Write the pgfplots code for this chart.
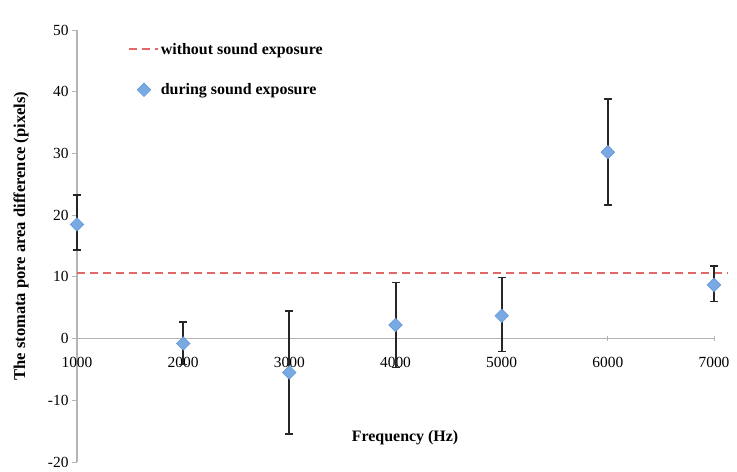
\documentclass[border=0pt]{standalone}
\usepackage{pgfplots}
\pgfplotsset{compat=1.18}
\usepackage{pgfplotstable}
\usepackage{fontspec}
\setmainfont{Liberation Serif}
\definecolor{axgray}{HTML}{B4B4B4}
\definecolor{dashred}{RGB}{224,104,104}
\definecolor{mkfill}{HTML}{78A9E3}
\definecolor{mkdraw}{HTML}{5D90D2}
\pgfplotstableread{
x y ep em
1000 18.5 4.7 4.2
2000 -0.8 3.5 3.4
3000 -5.5 10.0 9.9
4000 2.2 6.9 6.9
5000 3.7 6.2 5.8
6000 30.2 8.6 8.5
7000 8.7 3.1 2.7
}\stomata
\pgfplotstableread{
x y
1000 10.6
7130 10.6
}\baseline
\begin{document}
\begin{tikzpicture}
\path (-77bp,-10bp) rectangle (660bp,462bp);
\begin{axis}[
  at={(0,0)}, anchor=south west,
  scale only axis,
  width=637bp, height=432bp,
  xmin=1000, xmax=7000, ymin=-20, ymax=50,
  axis x line=middle, axis y line=left,
  hide obscured x ticks=false,
  axis line style={draw=axgray, line width=1.1bp, -},
  xtick={1000,2000,...,7000},
  ytick={-20,-10,...,50},
  major tick length=5bp,
  tick style={draw=axgray, line width=1bp},
  x tick style={yshift=2.5bp},
  tick align=outside,
  /pgf/number format/assume math mode=true,
  /pgf/number format/1000 sep={},
  tick label style={font=\fontsize{15.5}{16}\selectfont},
  xticklabel style={yshift=-10bp},
  clip=false,
  xlabel={\textbf{Frequency (Hz)}},
  xlabel style={at={(axis description cs:0.515,0.057)}, anchor=center, font=\fontsize{16}{16}\selectfont},
  ylabel={\textbf{The stomata pore area difference (pixels)}},
  ylabel style={at={(axis description cs:-0.0880,0.523)}, anchor=center, font=\fontsize{16.6}{17}\selectfont},
  legend style={at={(axis description cs:0.08,0.975)}, anchor=north west, draw=none, fill=none,
    font=\bfseries\fontsize{16}{16}\selectfont, row sep=24bp, inner sep=0pt,
    nodes={inner sep=2bp}},
  legend cell align=left,
]
\addplot[dashred, line width=1.6bp, dash pattern=on 8bp off 5bp, no markers,
  legend image code/.code={\draw[dashred, line width=1.7bp, dash pattern=on 8bp off 5bp] (-2bp,0bp) -- (27bp,0bp);}]
  table[x=x, y=y] {\baseline};
\addlegendentry{without sound exposure}
\addplot[only marks, mark=square*, mark size=4.8bp,
  mark options={rotate=45, fill=mkfill, draw=mkdraw, line width=0.5bp},
  legend image code/.code={\draw[mark=square*, mark size=4.8bp, mark options={rotate=45, fill=mkfill, draw=mkdraw, line width=0.5bp}] plot coordinates {(13bp,0bp)};},
  error bars/.cd, y dir=both, y explicit,
  error bar style={black!85, line width=2bp},
  error mark options={rotate=90, black!85, line width=1.8bp, mark size=4bp}]
  table[x=x, y=y, y error plus=ep, y error minus=em] {\stomata};
\addlegendentry{during sound exposure}
\end{axis}
\end{tikzpicture}
\end{document}
